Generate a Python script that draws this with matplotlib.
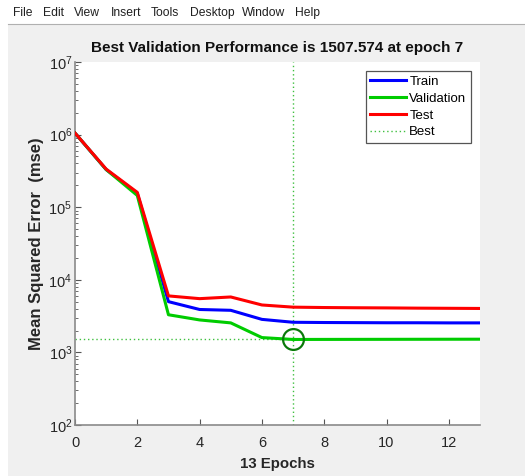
import matplotlib
matplotlib.use("Agg")
import matplotlib.pyplot as plt
from matplotlib.patches import Rectangle
from matplotlib.lines import Line2D
from matplotlib.ticker import LogLocator, FixedLocator

plt.rcParams['font.family'] = ['Liberation Sans', 'DejaVu Sans']

epochs = list(range(14))
train = [1.05e6, 3.3e5, 1.55e5, 5.0e3, 3.9e3, 3.8e3, 2.85e3, 2.6e3, 2.58e3, 2.57e3, 2.56e3, 2.56e3, 2.55e3, 2.55e3]
validation = [1.05e6, 3.3e5, 1.45e5, 3.3e3, 2.8e3, 2.55e3, 1.6e3, 1507.574, 1510, 1512, 1514, 1516, 1518, 1520]
test = [1.05e6, 3.35e5, 1.6e5, 6.0e3, 5.5e3, 5.8e3, 4.5e3, 4.2e3, 4.15e3, 4.12e3, 4.1e3, 4.07e3, 4.05e3, 4.03e3]
best_epoch = 7
best_perf = 1507.574
menu_items = ["File", "Edit", "View", "Insert", "Tools", "Desktop", "Window", "Help"]
menu_x = [13, 43, 74, 111, 151, 190, 242, 295]
title = "Best Validation Performance is 1507.574 at epoch 7"
xlabel = "13 Epochs"
ylabel = "Mean Squared Error  (mse)"
xticks = [0, 2, 4, 6, 8, 10, 12]

W, H = 525, 476
fig = plt.figure(figsize=(W / 100, H / 100), dpi=100, facecolor='#f0f0f0')

# window chrome: white menu strip and left border
fig.patches.append(Rectangle((0, 1 - 24 / H), 1, 24 / H, transform=fig.transFigure,
                             facecolor='white', edgecolor='none', zorder=0))
fig.patches.append(Rectangle((0, 0), 8 / W, 1, transform=fig.transFigure,
                             facecolor='white', edgecolor='none', zorder=0))
fig.add_artist(Line2D([8 / W, 1], [1 - 24 / H, 1 - 24 / H], transform=fig.transFigure,
                      color='#b0b0b0', lw=0.8))
for name, px in zip(menu_items, menu_x):
    fig.text(px / W, 1 - 13 / H, name, fontsize=8.7, va='center', ha='left',
             color='#202020')

ax = fig.add_axes([75 / W, 1 - 425 / H, (480 - 75) / W, (425 - 62) / H])
ax.set_facecolor('white')

c_blue = (0, 0, 1)
c_green = (0, 0.8, 0)
c_red = (1, 0, 0)
ax.semilogy(epochs, train, color=c_blue, lw=2.2, label='Train', zorder=3)
ax.semilogy(epochs, validation, color=c_green, lw=2.2, label='Validation', zorder=3)
ax.semilogy(epochs, test, color=c_red, lw=2.2, label='Test', zorder=4)
ax.plot([best_epoch, best_epoch], [1e2, 1e7], color='#40c040', lw=1.0, ls=(0, (1, 2)),
        label='Best', zorder=2)
ax.plot([0, best_epoch], [best_perf, best_perf], color='#40c040', lw=1.0, ls=(0, (1, 2)), zorder=2)
ax.plot([best_epoch], [best_perf], 'o', mfc='none', mec='#0a7a0a', mew=1.6, ms=15, zorder=5)

ax.set_xlim(0, 13)
ax.set_ylim(1e2, 1e7)
ax.xaxis.set_major_locator(FixedLocator(xticks))
ax.yaxis.set_major_locator(LogLocator(base=10, numticks=10))
ax.yaxis.set_minor_locator(LogLocator(base=10, subs=range(2, 10), numticks=20))

for s in ['top', 'right']:
    ax.spines[s].set_visible(False)
for s in ['left', 'bottom']:
    ax.spines[s].set_color('#8a8a8a')
    ax.spines[s].set_linewidth(1.2)
ax.tick_params(which='major', direction='in', length=4, width=0.8, color='#555555',
               labelsize=10.5, labelcolor='#262626')
ax.tick_params(axis='x', which='major', pad=8)
ax.tick_params(axis='y', which='major', pad=2)
ax.tick_params(which='minor', direction='in', length=2.5, width=0.6, color='#555555')

ax.set_title(title, fontsize=11, fontweight='bold', color='#111111', pad=7)
ax.set_xlabel(xlabel, fontsize=10.8, fontweight='bold', color='#262626', labelpad=5)
ax.set_ylabel(ylabel, fontsize=12, fontweight='bold', color='#262626', labelpad=3)

leg = ax.legend(loc='upper right', bbox_to_anchor=(0.978, 0.975), fontsize=9.5,
                fancybox=False, framealpha=1, edgecolor='#555555', handlelength=2.7,
                borderpad=0.35, labelspacing=0.35, handletextpad=0.25, borderaxespad=0)
leg.get_frame().set_linewidth(0.9)

fig.savefig('out.png', dpi=100, facecolor=fig.get_facecolor())
